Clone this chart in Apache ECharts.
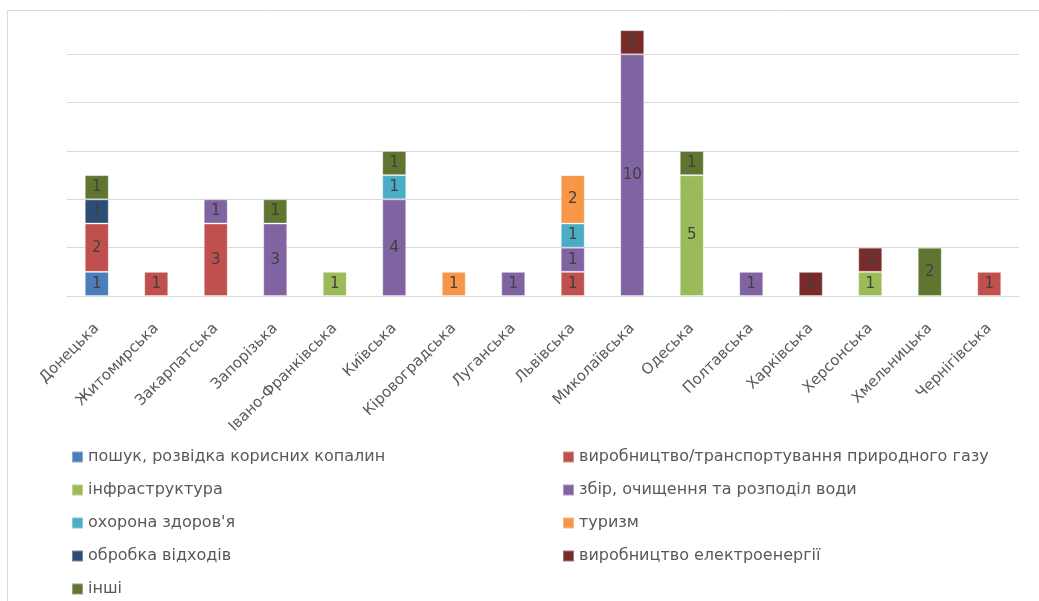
<!DOCTYPE html>
<html>
<head>
<meta charset="utf-8">
<script src="https://cdn.jsdelivr.net/npm/echarts@6/dist/echarts.min.js"></script>
<style>
  html, body { margin: 0; padding: 0; background: #fff; }
  #chart { width: 1039px; height: 601px; }
</style>
</head>
<body>
<div id="chart"></div>
<script>
const regions = ['Донецька', 'Житомирська', 'Закарпатська', 'Запорізька', 'Івано-Франківська', 'Київська',
  'Кіровоградська', 'Луганська', 'Львівська', 'Миколаївська', 'Одеська', 'Полтавська', 'Харківська',
  'Херсонська', 'Хмельницька', 'Чернігівська'];

// one array per sector, in stacking order (bottom to top)
const poshuk    = [1, 0, 0, 0, 0, 0, 0, 0, 0, 0, 0, 0, 0, 0, 0, 0];
const gaz       = [2, 1, 3, 0, 0, 0, 0, 0, 1, 0, 0, 0, 0, 0, 0, 1];
const infra     = [0, 0, 0, 0, 1, 0, 0, 0, 0, 0, 5, 0, 0, 1, 0, 0];
const voda      = [0, 0, 1, 3, 0, 4, 0, 1, 1, 10, 0, 1, 0, 0, 0, 0];
const zdorovia  = [0, 0, 0, 0, 0, 1, 0, 0, 1, 0, 0, 0, 0, 0, 0, 0];
const turyzm    = [0, 0, 0, 0, 0, 0, 1, 0, 2, 0, 0, 0, 0, 0, 0, 0];
const vidkhody  = [1, 0, 0, 0, 0, 0, 0, 0, 0, 0, 0, 0, 0, 0, 0, 0];
const elektro   = [0, 0, 0, 0, 0, 0, 0, 0, 0, 1, 0, 0, 1, 1, 0, 0];
const inshi     = [1, 0, 0, 1, 0, 1, 0, 0, 0, 0, 1, 0, 0, 0, 2, 0];

const sectorNames = [
  'пошук, розвідка корисних копалин',
  'виробництво/транспортування природного газу',
  'інфраструктура',
  'збір, очищення та розподіл води',
  'охорона здоров\'я',
  'туризм',
  'обробка відходів',
  'виробництво електроенергії',
  'інші'
];
const sectorData = [poshuk, gaz, infra, voda, zdorovia, turyzm, vidkhody, elektro, inshi];
const colors = ['#4A7EBB', '#C0504D', '#9BBB59', '#8064A2', '#4BACC6', '#F79646', '#2C4D75', '#772C2A', '#5F7530'];

const yTicks = [0, 2, 4, 6, 8, 10, 12];

const chart = echarts.init(document.getElementById('chart'));

const series = sectorNames.map((name, i) => ({
  name: name,
  type: 'bar',
  stack: 'all',
  barWidth: 24,
  data: sectorData[i].map(v => (v === 0 ? null : v)),
  itemStyle: { color: colors[i], borderColor: 'rgba(255,255,255,0.35)', borderWidth: 1 },
  label: {
    show: true,
    position: 'inside',
    color: '#404040',
    fontFamily: 'DejaVu Sans',
    fontSize: 15
  }
}));

const legendText = { color: '#595959', fontFamily: 'DejaVu Sans', fontSize: 16 };

chart.setOption({
  animation: false,
  color: colors,
  graphic: [{
    type: 'rect',
    shape: { x: 7.5, y: 10.5, width: 1200, height: 800 },
    style: { fill: 'none', stroke: '#d9d9d9', lineWidth: 1 },
    silent: true,
    z: -10
  }],
  grid: { left: 67, right: 20, top: 6, height: 290 },
  legend: [
    {
      orient: 'vertical',
      left: 66, top: 444, height: 200,
      itemWidth: 11, itemHeight: 11, itemGap: 17,
      icon: 'rect',
      textStyle: legendText,
      data: [sectorNames[0], sectorNames[2], sectorNames[4], sectorNames[6], sectorNames[8]]
    },
    {
      orient: 'vertical',
      left: 557, top: 444, height: 200,
      itemWidth: 11, itemHeight: 11, itemGap: 17,
      icon: 'rect',
      textStyle: legendText,
      data: [sectorNames[1], sectorNames[3], sectorNames[5], sectorNames[7]]
    }
  ],
  xAxis: {
    type: 'category',
    data: regions,
    axisLine: { show: true, lineStyle: { color: '#d9d9d9', width: 1 } },
    axisTick: { show: false },
    axisLabel: {
      interval: 0,
      rotate: 45,
      margin: 30,
      color: '#595959',
      fontFamily: 'DejaVu Sans',
      fontSize: 15
    }
  },
  yAxis: {
    type: 'value',
    min: yTicks[0],
    max: yTicks[yTicks.length - 1],
    interval: 2,
    axisLabel: { show: false },
    axisLine: { show: false },
    axisTick: { show: false },
    splitLine: {
      lineStyle: {
        color: yTicks.map((t, i) => (i === yTicks.length - 1 ? 'rgba(0,0,0,0)' : '#d9d9d9')),
        width: 1
      }
    }
  },
  series: series
});
</script>
</body>
</html>
